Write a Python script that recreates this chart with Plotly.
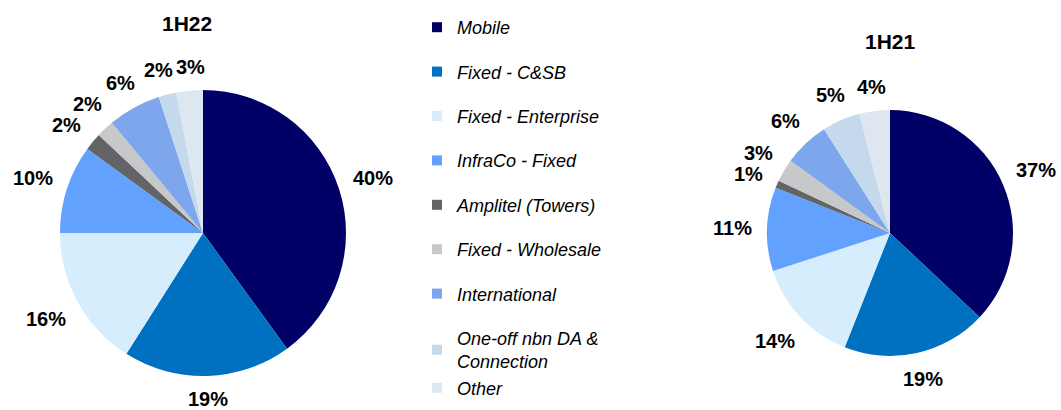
import math
import plotly.graph_objects as go

categories = ["Mobile", "Fixed - C&SB", "Fixed - Enterprise", "InfraCo - Fixed",
              "Amplitel (Towers)", "Fixed - Wholesale", "International",
              "One-off nbn DA &<br>Connection", "Other"]
values_1h22 = [40, 19, 16, 10, 2, 2, 6, 2, 3]
values_1h21 = [37, 19, 14, 11, 1, 3, 6, 5, 4]
colors = ["#000066", "#0070C0", "#D6EDFD", "#63A1FF", "#636468",
          "#C7C8CA", "#7EA6EC", "#C4DAEC", "#DEE7EF"]
titles = ["1H22", "1H21"]

FONT = "Arial, Liberation Sans, sans-serif"
W, H = 1061, 410
LBL_SIZE = 20
LBL_H = 17
GAP = 14

# pie geometry (pixels): centre x, centre y, radius, title position
pies = [(values_1h22, 203, 233, 143, titles[0], 187, 23),
        (values_1h21, 890, 233, 123, titles[1], 890, 42)]


def label_box(cx, cy, r, ang, w):
    ux, uy = math.sin(ang), -math.cos(ang)
    d = r + GAP + (w / 2) * abs(ux) + (LBL_H / 2) * abs(uy)
    return cx + d * ux, cy + d * uy


def overlap(b1, b2, pad=3):
    (x1, y1, w1), (x2, y2, w2) = b1, b2
    return abs(x1 - x2) < (w1 + w2) / 2 + pad and abs(y1 - y2) < LBL_H + pad


fig = go.Figure()
for vals, cx, cy, r, title, tx, ty in pies:
    dom = dict(x=[(cx - r) / W, (cx + r) / W],
               y=[(H - cy - r) / H, (H - cy + r) / H])
    fig.add_trace(go.Pie(
        labels=categories, values=vals, sort=False, direction="clockwise",
        rotation=0, marker=dict(colors=colors, line=dict(width=0)),
        textinfo="none", showlegend=False, domain=dom,
        hoverinfo="label+percent"))
    total = float(sum(vals))
    cum = 0.0
    angs, texts, widths = [], [], []
    for v in vals:
        angs.append((cum + v / 2.0) / total * 2 * math.pi)
        cum += v
        txt = "%d%%" % round(v / total * 100)
        texts.append(txt)
        widths.append((len(txt) - 1) * 0.556 * LBL_SIZE + 0.889 * LBL_SIZE)
    # spread neighbouring labels apart so they do not collide
    step = math.radians(0.25)
    for _ in range(400):
        moved = False
        for i in range(len(angs) - 1):
            b1 = label_box(cx, cy, r, angs[i], widths[i]) + (widths[i],)
            b2 = label_box(cx, cy, r, angs[i + 1], widths[i + 1]) + (widths[i + 1],)
            if overlap(b1, b2):
                angs[i] -= step
                angs[i + 1] += step
                moved = True
        if not moved:
            break
    for ang, txt, w in zip(angs, texts, widths):
        px, py = label_box(cx, cy, r, ang, w)
        fig.add_annotation(x=px / W, y=1 - py / H, xref="paper", yref="paper",
                           text="<b>%s</b>" % txt, showarrow=False,
                           xanchor="center", yanchor="middle",
                           font=dict(family=FONT, size=LBL_SIZE, color="#000000"))
    fig.add_annotation(x=tx / W, y=1 - ty / H, xref="paper", yref="paper",
                       text="<b>%s</b>" % title, showarrow=False,
                       xanchor="center", yanchor="middle",
                       font=dict(family=FONT, size=21, color="#000000"))

for i, (cat, col) in enumerate(zip(categories, colors)):
    grp = "g%d" % min(i, 7)
    fig.add_trace(go.Scatter(
        x=[None], y=[None], mode="markers", name=cat, legendgroup=grp,
        marker=dict(symbol="square", size=10, color=col),
        showlegend=True, hoverinfo="skip"))

fig.update_layout(
    width=W, height=H, margin=dict(l=0, r=0, t=0, b=0),
    paper_bgcolor="white", plot_bgcolor="white",
    xaxis=dict(visible=False), yaxis=dict(visible=False),
    legend=dict(x=417 / W, y=1 - 9 / H, xanchor="left", yanchor="top",
                font=dict(family=FONT, size=18, color="#000000", style="italic"),
                tracegroupgap=18, itemwidth=30, bgcolor="rgba(0,0,0,0)"),
)
fig.write_html("out.html", config={"displayModeBar": False},
               post_script="document.body.style.margin='0';")
